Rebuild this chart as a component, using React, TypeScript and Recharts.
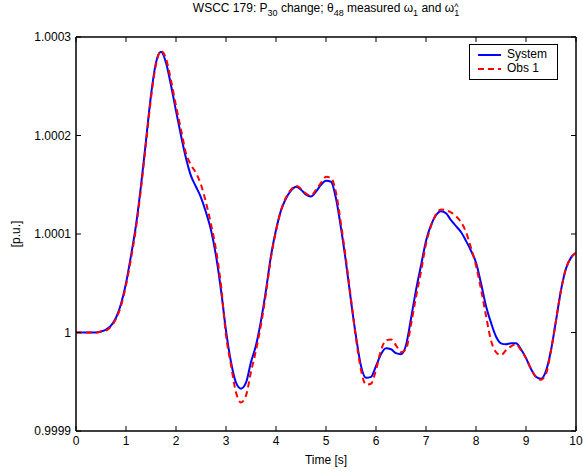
import React from "react";
import { LineChart, Line, XAxis, YAxis, ReferenceArea } from "recharts";

// time axis, 0.1 s step
const time: number[] = Array.from({ length: 101 }, (_, i) => Math.round(i) / 10);

// deviation from 1 p.u., in micro p.u. (1e-6)
const systemDev: number[] = [
  0, 0, 0, 0, 0, 1, 3, 7, 15, 29,
  50, 78, 109, 149, 195, 241, 274, 285, 274, 251,
  225, 200, 177, 159, 148, 137, 122, 104, 78, 43,
  2, -30, -51, -57, -51, -30, -13, 12, 43, 78,
  104, 124, 136, 144, 148, 145, 140, 138, 143, 150,
  154, 153, 136, 106, 71, 32, -4, -34, -46, -45,
  -34, -22, -16, -17, -21, -22, -13, 14, 43, 68,
  93, 109, 119, 123, 121, 114, 108, 102, 93, 83,
  71, 50, 27, 10, -4, -11, -12, -11, -11, -17,
  -26, -37, -45, -47, -39, -18, 12, 43, 65, 76,
  81,
];

const obsDev: number[] = [
  0, 0, 0, 0, 0, 1, 2, 6, 14, 27,
  48, 75, 106, 146, 192, 238, 272, 286, 278, 256,
  230, 206, 182, 170, 162, 150, 132, 110, 84, 48,
  -3, -33, -61, -71, -64, -40, -18, 8, 40, 76,
  103, 124, 137, 145, 149, 146, 141, 139, 145, 152,
  158, 157, 142, 110, 74, 34, -6, -38, -53, -52,
  -38, -18, -8, -7, -13, -20, -17, 8, 36, 62,
  90, 108, 120, 125, 124, 122, 118, 112, 102, 86,
  68, 44, 17, -8, -20, -23, -18, -14, -12, -18,
  -26, -37, -45, -48, -42, -18, 12, 43, 65, 76,
  81,
];

const xTicks = [0, 1, 2, 3, 4, 5, 6, 7, 8, 9, 10];
const yTicks = [-100, 0, 100, 200, 300];
const yTickLabels = ["0.9999", "1", "1.0001", "1.0002", "1.0003"];

const data = time.map((t, i) => ({ t, sys: systemDev[i], obs: obsDev[i] }));

const font = "'Liberation Sans', Arial, sans-serif";
const tickStyle = { fontSize: 12, fill: "#000", fontFamily: font };

export default function App() {
  return (
    <div style={{ position: "absolute", left: 0, top: 0, width: 583, height: 472, background: "#fff", fontFamily: font }}>
      <LineChart width={583} height={472} data={data} margin={{ top: 17, right: 0, bottom: 0, left: 0 }}>
        <XAxis
          dataKey="t"
          type="number"
          domain={[0, 10]}
          ticks={xTicks}
          height={41}
          tickSize={-5}
          tickMargin={10}
          tick={tickStyle}
          stroke="#000"
          label={{ value: "Time [s]", position: "insideBottom", offset: 8, style: { fontSize: 12, fill: "#000", fontFamily: font } }}
        />
        <XAxis
          xAxisId="top"
          orientation="top"
          dataKey="t"
          type="number"
          domain={[0, 10]}
          ticks={xTicks}
          height={20}
          tickSize={-5}
          tickFormatter={() => ""}
          stroke="#000"
        />
        <YAxis
          type="number"
          domain={[-100, 300]}
          ticks={yTicks}
          width={76}
          tickSize={-5}
          tickMargin={10}
          tick={tickStyle}
          tickFormatter={(v: number) => yTickLabels[yTicks.indexOf(v)] ?? ""}
          stroke="#000"
        />
        <YAxis
          yAxisId="right"
          orientation="right"
          type="number"
          domain={[-100, 300]}
          ticks={yTicks}
          width={7}
          tickSize={-5}
          tickFormatter={() => ""}
          stroke="#000"
        />
        <ReferenceArea x1={0} x2={10} y1={-100} y2={300} fill="none" stroke="#000" strokeWidth={1} ifOverflow="visible" />
        {/* invisible series bound to the mirror axes */}
        <Line xAxisId="top" yAxisId="right" dataKey="sys" stroke="none" strokeOpacity={0} dot={false} activeDot={false} isAnimationActive={false} legendType="none" />
        <Line type="monotone" dataKey="sys" stroke="#0000ff" strokeWidth={2} dot={false} isAnimationActive={false} />
        <Line type="monotone" dataKey="obs" stroke="#ff0000" strokeWidth={2} strokeDasharray="6 4" dot={false} isAnimationActive={false} />
      </LineChart>

      {/* title */}
      <svg width={583} height={30} style={{ position: "absolute", left: 0, top: 0 }}>
        <text x={326} y={12} textAnchor="middle" fontSize={12} fontFamily={font} fill="#000">
          WSCC 179: P
          <tspan dy={4} fontSize={9}>30</tspan>
          <tspan dy={-4}> change; θ</tspan>
          <tspan dy={4} fontSize={9}>48</tspan>
          <tspan dy={-4}> measured ω</tspan>
          <tspan dy={4} fontSize={9}>1</tspan>
          <tspan dy={-4}> and ω</tspan>
          <tspan dy={4} fontSize={9}>1</tspan>
          <tspan dx={-5} dy={-6} fontSize={9}>^</tspan>
        </text>
      </svg>

      {/* y label */}
      <div style={{ position: "absolute", left: 16, top: 234, transform: "translate(-50%, -50%) rotate(-90deg)", fontSize: 12, whiteSpace: "nowrap" }}>
        [p.u.]
      </div>

      {/* legend */}
      <div style={{ position: "absolute", left: 469, top: 44, width: 87, height: 34, border: "1px solid #000", background: "#fff", fontSize: 12 }}>
        <svg width={30} height={34} style={{ position: "absolute", left: 6, top: 0 }}>
          <line x1={2} x2={25} y1={10} y2={10} stroke="#0000ff" strokeWidth={2} />
          <line x1={2} x2={25} y1={24} y2={24} stroke="#ff0000" strokeWidth={2} strokeDasharray="6 4" />
        </svg>
        <div style={{ position: "absolute", left: 37, top: 2 }}>System</div>
        <div style={{ position: "absolute", left: 37, top: 16 }}>Obs 1</div>
      </div>
    </div>
  );
}
